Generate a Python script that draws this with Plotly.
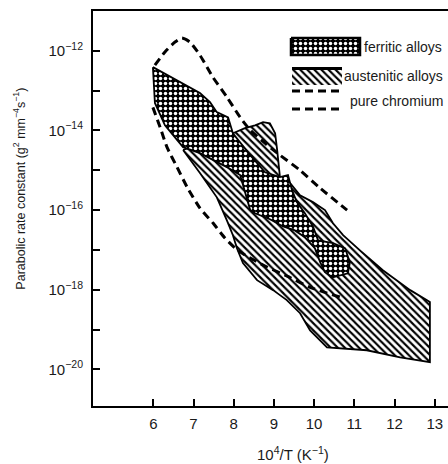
import plotly.graph_objects as go

# ---- data (10^4/T in K^-1, log10 of parabolic rate constant) ----
ferritic_x = [5.99, 6.54, 7.16, 7.41, 7.58, 7.86, 7.98, 8.41, 8.78, 9.15, 9.35, 9.45, 9.57, 9.77,
              9.97, 10.10, 10.47, 10.77, 10.89, 10.84, 10.47, 10.27, 10.15, 10.02, 9.77, 9.52,
              9.23, 8.90, 8.53, 8.41, 8.28, 8.16, 7.83, 7.49, 7.16, 6.74, 6.29, 6.04]
ferritic_logk = [-12.41, -12.71, -13.06, -13.29, -13.54, -13.67, -14.07, -14.62, -15.05, -15.17,
                 -15.12, -15.50, -15.80, -16.08, -16.41, -16.76, -16.83, -16.96, -17.31, -17.59,
                 -17.69, -17.56, -17.31, -16.96, -16.68, -16.51, -16.41, -16.23, -16.08, -16.00,
                 -15.55, -15.12, -14.92, -14.75, -14.57, -14.42, -13.87, -13.31]

austenitic_x = [6.74, 7.41, 7.98, 8.28, 8.53, 8.73, 8.90, 9.03, 9.08, 9.15, 9.40, 9.65, 9.97,
                10.27, 10.47, 10.72, 11.14, 11.71, 12.39, 12.88, 12.88, 12.14, 11.31, 10.47,
                10.32, 9.90, 9.65, 9.32, 8.98, 8.58, 8.23, 8.08, 7.98, 7.83, 7.58, 7.16]
austenitic_logk = [-14.49, -14.24, -14.07, -13.94, -13.87, -13.79, -13.82, -14.07, -14.49, -15.17,
                   -15.32, -15.63, -15.80, -16.00, -16.33, -16.63, -17.01, -17.51, -18.01, -18.31,
                   -19.82, -19.70, -19.52, -19.47, -19.45, -19.02, -18.59, -18.26, -18.01, -17.76,
                   -17.33, -16.96, -16.63, -16.26, -15.68, -15.07]

chromium_upper_x = [6.04, 6.29, 6.54, 6.71, 6.91, 7.16, 7.48, 7.83, 8.16, 8.41, 8.78, 9.15,
                    9.65, 10.15, 10.82]
chromium_upper_logk = [-12.36, -12.03, -11.78, -11.68, -11.78, -12.11, -12.66, -13.16, -13.67,
                       -13.99, -14.32, -14.62, -15.00, -15.45, -16.00]

chromium_lower_x = [5.99, 6.17, 6.34, 6.59, 6.84, 7.16, 7.48, 7.78, 8.03, 8.28, 8.83, 9.33,
                    9.90, 10.66]
chromium_lower_logk = [-13.42, -13.92, -14.42, -14.92, -15.42, -15.95, -16.32, -16.70, -16.95,
                       -17.13, -17.43, -17.66, -17.94, -18.19]

x_ticks = [6, 7, 8, 9, 10, 11, 12, 13]
y_exponents = [-20, -19, -18, -17, -16, -15, -14, -13, -12]
y_ticktext = ["10<sup>\u2212%d</sup>" % (-e) if e % 2 == 0 else "" for e in y_exponents]

legend_labels = ["ferritic alloys", "austenitic alloys", "pure chromium"]

# ---- styles ----
FONT = "Liberation Sans"
INK = "#1a1a1a"
hatch = dict(shape="\\", fgcolor="black", bgcolor="white", fgopacity=1, size=5, solidity=0.42)
cross = dict(shape=".", fgcolor="white", bgcolor="black", fgopacity=1, size=5, solidity=0.38)
dash_style = "8px,5px"

def k(vals):
    return [10 ** v for v in vals]

fig = go.Figure()

fig.add_trace(go.Scatter(x=austenitic_x + austenitic_x[:1], y=k(austenitic_logk + austenitic_logk[:1]),
                         mode="lines", fill="toself", fillcolor="white", fillpattern=hatch,
                         line=dict(color="black", width=1.8), hoverinfo="skip"))
fig.add_trace(go.Scatter(x=ferritic_x + ferritic_x[:1], y=k(ferritic_logk + ferritic_logk[:1]),
                         mode="lines", fill="toself", fillcolor="black", fillpattern=cross,
                         line=dict(color="black", width=1.8), hoverinfo="skip"))
for xs, ls in [(chromium_upper_x, chromium_upper_logk), (chromium_lower_x, chromium_lower_logk)]:
    fig.add_trace(go.Scatter(x=xs, y=k(ls), mode="lines", line=dict(color="black", width=3, dash=dash_style,
                             shape="spline", smoothing=0.6), hoverinfo="skip"))

# ---- legend glyphs drawn on a hidden pixel-based overlay axis ----
L = dict(xaxis="x2", yaxis="y2", hoverinfo="skip", mode="lines")
fig.add_trace(go.Scatter(x=[291, 360, 360, 291, 291], y=[38, 38, 55, 55, 38], fill="toself",
                         fillcolor="black", fillpattern=cross, line=dict(color="black", width=2.5), **L))
fig.add_trace(go.Scatter(x=[292, 342, 342, 292, 292], y=[69, 69, 85, 85, 69], fill="toself",
                         fillcolor="white", fillpattern=hatch, line=dict(color="black", width=0), **L))
fig.add_trace(go.Scatter(x=[292, 342], y=[68.5, 68.5], line=dict(color="black", width=3), **L))
fig.add_trace(go.Scatter(x=[292, 340], y=[91, 91], line=dict(color="black", width=3, dash=dash_style), **L))
fig.add_trace(go.Scatter(x=[292, 340], y=[109, 109], line=dict(color="black", width=3, dash=dash_style), **L))

annotations = [
    dict(xref="x2", yref="y2", x=362, y=47, text=legend_labels[0], xanchor="left", yanchor="middle",
         showarrow=False, font=dict(family=FONT, size=14, color=INK)),
    dict(xref="x2", yref="y2", x=342, y=76, text=legend_labels[1], xanchor="left", yanchor="middle",
         showarrow=False, font=dict(family=FONT, size=14, color=INK)),
    dict(xref="x2", yref="y2", x=348, y=101, text=legend_labels[2], xanchor="left", yanchor="middle",
         showarrow=False, font=dict(family=FONT, size=14, color=INK)),
    dict(xref="paper", yref="paper", x=0.563, y=-0.121, text="10<sup>4</sup>/T (K<sup>\u22121</sup>)",
         xanchor="center", yanchor="middle", showarrow=False, font=dict(family=FONT, size=15, color=INK)),
    dict(xref="paper", yref="paper", x=-0.207, y=0.549, textangle=-90,
         text="Parabolic rate constant (g<sup>2</sup> mm<sup>\u22124</sup>s<sup>\u22121</sup>)",
         xanchor="center", yanchor="middle", showarrow=False, font=dict(family=FONT, size=12.5, color=INK)),
]

fig.update_layout(
    width=448, height=464,
    margin=dict(l=93, r=0, t=11, b=58, pad=0),
    paper_bgcolor="white", plot_bgcolor="white",
    showlegend=False,
    font=dict(family=FONT, size=15, color=INK),
    annotations=annotations,
    xaxis=dict(range=[4.5, 13.33], tickvals=x_ticks, ticks="inside", ticklen=7, tickwidth=2,
               tickcolor="black", showline=True, linewidth=2, linecolor="black", mirror=True,
               showgrid=False, zeroline=False, ticklabelstandoff=3,
               tickfont=dict(family=FONT, size=15, color=INK)),
    yaxis=dict(type="log", range=[-20.92, -11.0], tickvals=k(y_exponents), ticktext=y_ticktext,
               ticks="inside", ticklen=7, tickwidth=2, tickcolor="black", showline=True, linewidth=2,
               linecolor="black", mirror=False, showgrid=False, zeroline=False, ticklabelstandoff=5,
               tickfont=dict(family=FONT, size=15, color=INK)),
    xaxis2=dict(overlaying="x", range=[93, 448], visible=False, fixedrange=True),
    yaxis2=dict(overlaying="y", range=[406, 11], visible=False, fixedrange=True),
)

fig.write_html("out.html")
